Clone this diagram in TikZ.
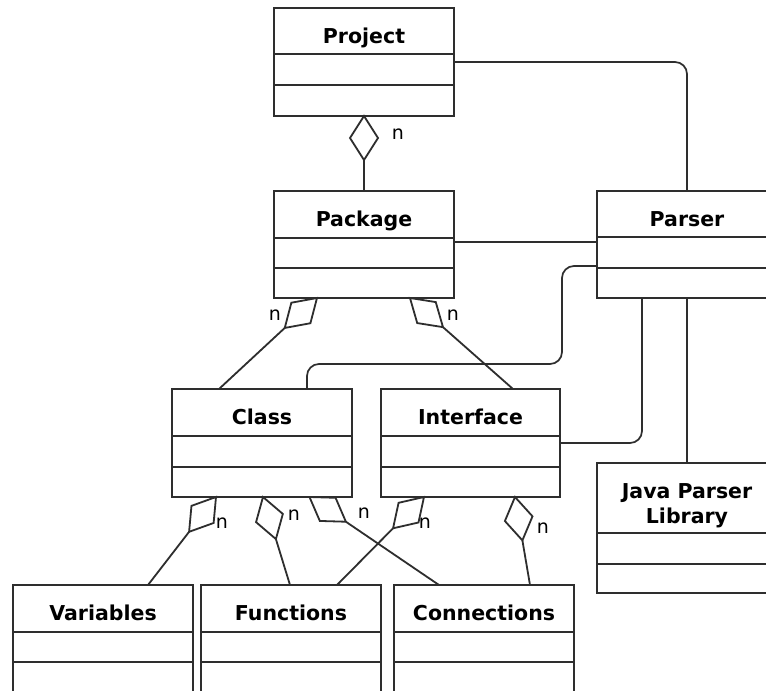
\documentclass[tikz,border=0pt]{standalone}
\usepackage{fontspec}
\setmainfont{DejaVu Sans}
\usetikzlibrary{calc}
\tikzset{
  umlline/.style={draw=black!82, line width=1.8pt},
  umlbox/.style={draw=black!82, line width=1.8pt, fill=white, rectangle, inner sep=0pt, outer sep=0pt, anchor=north west},
  umltitle/.style={font=\bfseries\fontsize{20.5}{25}\selectfont, inner sep=0pt, align=center},
  mult/.style={font=\fontsize{19}{22}\selectfont, inner sep=0pt},
  conn/.style={draw=black!82, line width=1.7pt, rounded corners=12pt},
}
% name, x1, y1, x2, y2, divider1, divider2, title, baseline offset of last title line
\newcommand\umlclass[9]{%
  \node[umlbox, minimum width={#4-#2}, minimum height={#5-#3}] (#1) at (#2,#3) {};
  \draw[umlline] (#2,#6) -- (#4,#6) (#2,#7) -- (#4,#7);
  \node[umltitle, anchor=base] (#1-title) at ({(#2+#4)/2},{#3+#9}) {#8};
}
% aggregation diamond at #1 pointing toward #2
\newcommand\aggr[2]{%
  \draw[umlline, fill=white, line join=miter] (#1)
    -- ($(#1)!22pt!(#2)!14pt!90:(#2)$)
    -- ($(#1)!44pt!(#2)$)
    -- ($(#1)!22pt!(#2)!14pt!-90:(#2)$) -- cycle;
  \draw[umlline] ($(#1)!44pt!(#2)$) -- (#2);
}
\begin{document}
\begin{tikzpicture}[x=1pt, y=-1pt]
\useasboundingbox (0,0) rectangle (766,691);
\clip (0,0) rectangle (766,691);
\fill[white] (0,0) rectangle (766,691);

% classes
\umlclass{project}{274}{8}{454}{116}{54}{85}{Project}{35}
\umlclass{package}{274}{191}{454}{298}{238}{268}{Package}{35}
\umlclass{parser}{597}{191}{777}{298}{237}{268}{Parser}{35}
\umlclass{class}{172}{389}{352}{497}{436}{467}{Class}{35}
\umlclass{iface}{381}{389}{560}{497}{436}{467}{Interface}{35}
\umlclass{jpl}{597}{463}{777}{593}{533}{564}{Java Parser\\Library}{60}
\umlclass{var}{13}{585}{193}{720}{632}{662}{Variables}{35}
\umlclass{func}{201}{585}{381}{720}{632}{662}{Functions}{35}
\umlclass{conns}{394}{585}{574}{720}{632}{662}{Connections}{35}

% plain connectors
\draw[conn] (project.east) -| (parser.north);
\draw[umlline] (package.east |- 0,242) -- (parser.west |- 0,242);
\draw[conn] (parser.west |- 0,266) -- (562,266) -- (562,364) -- (307,364) -- (class.north -| 307,0);
\draw[conn] (parser.south -| 642,0) |- (iface.east |- 0,443);
\draw[umlline] (parser.south) -- (jpl.north);

% aggregation end points
\coordinate (prjS) at (project.south);
\coordinate (pkgN) at (package.north);
\coordinate (pkgS1) at (package.south -| 317,0);
\coordinate (pkgS2) at (package.south -| 410,0);
\coordinate (clsN) at (class.north -| 219,0);
\coordinate (ifcN) at (iface.north -| 513,0);
\coordinate (clsS1) at (class.south -| 216,0);
\coordinate (clsS2) at (class.south -| 263,0);
\coordinate (clsS3) at (class.south -| 309.5,0);
\coordinate (ifcS1) at (iface.south -| 424,0);
\coordinate (ifcS2) at (iface.south -| 515,0);
\coordinate (varN) at (var.north -| 148,0);
\coordinate (funN1) at (func.north -| 290,0);
\coordinate (funN2) at (func.north -| 337,0);
\coordinate (conN1) at (conns.north -| 439,0);
\coordinate (conN2) at (conns.north -| 530,0);

\aggr{prjS}{pkgN}
\aggr{pkgS1}{clsN}
\aggr{pkgS2}{ifcN}
\aggr{clsS1}{varN}
\aggr{clsS2}{funN1}
\aggr{clsS3}{conN1}
\aggr{ifcS1}{funN2}
\aggr{ifcS2}{conN2}

% multiplicities
\node[mult] (m1) at (398,134) {n};
\node[mult] (m2) at (275,315) {n};
\node[mult] (m3) at (453,315) {n};
\node[mult] (m4) at (222,523) {n};
\node[mult] (m5) at (294,515) {n};
\node[mult] (m6) at (364,513) {n};
\node[mult] (m7) at (425,523) {n};
\node[mult] (m8) at (543,528) {n};
\end{tikzpicture}
\end{document}
